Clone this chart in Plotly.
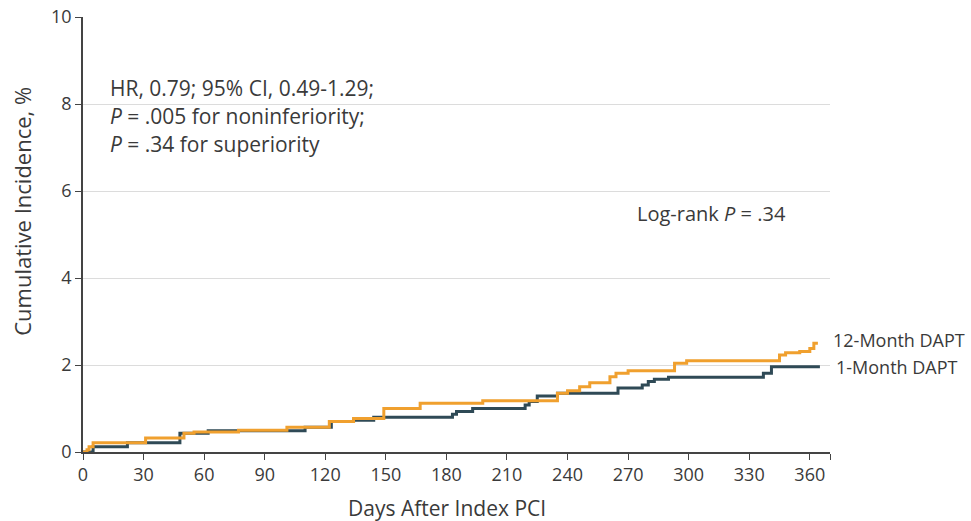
import plotly.graph_objects as go

# Kaplan-Meier style cumulative incidence (%), step changes by day
days_1m = [0, 5, 22, 48, 62, 110, 123, 134, 144, 183, 185, 193, 219, 221, 225, 235,
           265, 277, 280, 283, 290, 337, 341, 365]
inc_1m = [0, 0.12, 0.21, 0.43, 0.49, 0.57, 0.70, 0.73, 0.80, 0.87, 0.93, 1.00, 1.08,
          1.16, 1.29, 1.35, 1.47, 1.54, 1.62, 1.67, 1.72, 1.81, 1.96, 1.96]

days_12m = [0, 2, 3, 5, 31, 50, 55, 77, 101, 122, 134, 149, 167, 198, 235, 240, 246,
            251, 261, 264, 270, 293, 299, 345, 348, 355, 360, 362, 364]
inc_12m = [0, 0.05, 0.12, 0.21, 0.32, 0.43, 0.46, 0.50, 0.57, 0.70, 0.77, 1.00, 1.12,
           1.18, 1.35, 1.41, 1.50, 1.59, 1.73, 1.81, 1.87, 2.04, 2.10, 2.23, 2.28, 2.31,
           2.38, 2.50, 2.50]

x_ticks = [0, 30, 60, 90, 120, 150, 180, 210, 240, 270, 300, 330, 360]
y_ticks = [0, 2, 4, 6, 8, 10]

DARK = "#2f4a56"
ORANGE = "#f0a02e"
TEXT = "#3a3a3a"
FONT = "Open Sans"

fig = go.Figure()
fig.add_trace(go.Scatter(x=days_1m, y=inc_1m, mode="lines", line_shape="hv",
                         line=dict(color=DARK, width=3), name="1-Month DAPT"))
fig.add_trace(go.Scatter(x=days_12m, y=inc_12m, mode="lines", line_shape="hv",
                         line=dict(color=ORANGE, width=3), name="12-Month DAPT"))

fig.update_layout(
    width=971, height=521,
    margin=dict(l=83, r=141, t=17, b=69),
    paper_bgcolor="white", plot_bgcolor="white",
    showlegend=False,
    font=dict(family=FONT, size=18, color=TEXT),
    xaxis=dict(range=[0, 370], tickvals=x_ticks + [370],
               ticktext=[str(v) for v in x_ticks] + [""],
               automargin=False,
               showgrid=False, zeroline=False, showline=True, linecolor="#444",
               linewidth=1.5, ticks="outside", ticklen=6, tickcolor="#444",
               tickfont=dict(size=18, color=TEXT)),
    yaxis=dict(range=[0, 10], tickvals=y_ticks, showgrid=True, gridcolor="#dcdcdc",
               automargin=False,
               gridwidth=1, zeroline=False, showline=True, linecolor="#444",
               linewidth=1.5, ticks="outside", ticklen=6, tickcolor="#444",
               tickfont=dict(size=18, color=TEXT)),
)

# axis titles
fig.add_annotation(xref="paper", yref="paper", x=0.487, y=-0.129,
                   xanchor="center", yanchor="middle", showarrow=False,
                   text="Days After Index PCI",
                   font=dict(family=FONT, size=21, color=TEXT))
fig.add_annotation(xref="paper", yref="y", x=-0.082, y=5.54,
                   xanchor="center", yanchor="middle", showarrow=False, textangle=-90,
                   text="Cumulative Incidence, %",
                   font=dict(family=FONT, size=22, color=TEXT))

ann = dict(showarrow=False, xanchor="left", yanchor="middle",
           font=dict(family=FONT, size=21, color=TEXT))
fig.add_annotation(x=12.4, y=8.37, text="HR, 0.79; 95% CI, 0.49-1.29;", **ann)
fig.add_annotation(x=12.4, y=7.72, text="<i>P</i> = .005 for noninferiority;", **ann)
fig.add_annotation(x=12.4, y=7.08, text="<i>P</i> = .34 for superiority", **ann)
lr = dict(ann, font=dict(family=FONT, size=20, color=TEXT))
fig.add_annotation(x=273.5, y=5.49, text="Log-rank <i>P</i> = .34", **lr)
leg = dict(ann, font=dict(family=FONT, size=18, color=TEXT))
fig.add_annotation(xref="paper", x=1.002, y=2.57, text="12-Month DAPT", **leg)
fig.add_annotation(xref="paper", x=1.005, y=1.95, text="1-Month DAPT", **leg)

fig.write_html("out.html")
